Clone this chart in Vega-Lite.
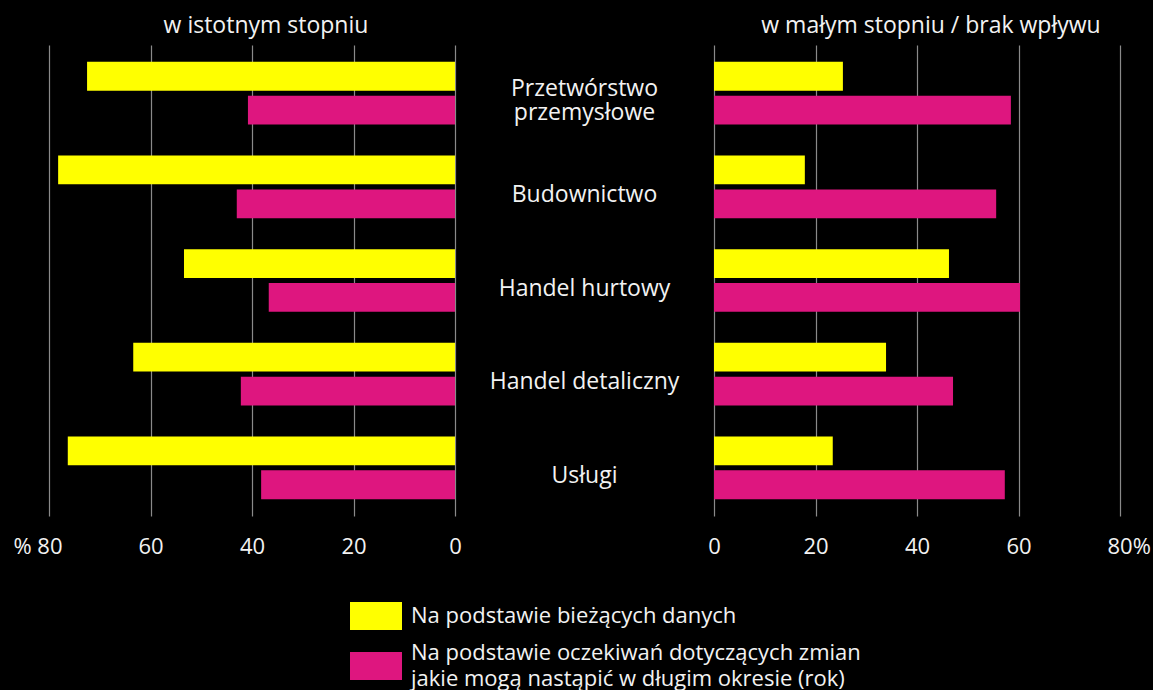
{
  "$schema": "https://vega.github.io/schema/vega-lite/v6.json",
  "background": "black",
  "padding": {"left": 12, "top": 15, "right": 2, "bottom": 2},
  "datasets": {
    "bars": [
      {"category": "Przetwórstwo przemysłowe", "series": "Na podstawie bieżących danych", "side": "istotny", "value": 72.5},
      {"category": "Przetwórstwo przemysłowe", "series": "Na podstawie oczekiwań dotyczących zmian jakie mogą nastąpić w długim okresie (rok)", "side": "istotny", "value": 40.8},
      {"category": "Budownictwo", "series": "Na podstawie bieżących danych", "side": "istotny", "value": 78.2},
      {"category": "Budownictwo", "series": "Na podstawie oczekiwań dotyczących zmian jakie mogą nastąpić w długim okresie (rok)", "side": "istotny", "value": 43.0},
      {"category": "Handel hurtowy", "series": "Na podstawie bieżących danych", "side": "istotny", "value": 53.4},
      {"category": "Handel hurtowy", "series": "Na podstawie oczekiwań dotyczących zmian jakie mogą nastąpić w długim okresie (rok)", "side": "istotny", "value": 36.7},
      {"category": "Handel detaliczny", "series": "Na podstawie bieżących danych", "side": "istotny", "value": 63.4},
      {"category": "Handel detaliczny", "series": "Na podstawie oczekiwań dotyczących zmian jakie mogą nastąpić w długim okresie (rok)", "side": "istotny", "value": 42.2},
      {"category": "Usługi", "series": "Na podstawie bieżących danych", "side": "istotny", "value": 76.3},
      {"category": "Usługi", "series": "Na podstawie oczekiwań dotyczących zmian jakie mogą nastąpić w długim okresie (rok)", "side": "istotny", "value": 38.2},
      {"category": "Przetwórstwo przemysłowe", "series": "Na podstawie bieżących danych", "side": "maly", "value": 25.4},
      {"category": "Przetwórstwo przemysłowe", "series": "Na podstawie oczekiwań dotyczących zmian jakie mogą nastąpić w długim okresie (rok)", "side": "maly", "value": 58.5},
      {"category": "Budownictwo", "series": "Na podstawie bieżących danych", "side": "maly", "value": 17.9},
      {"category": "Budownictwo", "series": "Na podstawie oczekiwań dotyczących zmian jakie mogą nastąpić w długim okresie (rok)", "side": "maly", "value": 55.6},
      {"category": "Handel hurtowy", "series": "Na podstawie bieżących danych", "side": "maly", "value": 46.3},
      {"category": "Handel hurtowy", "series": "Na podstawie oczekiwań dotyczących zmian jakie mogą nastąpić w długim okresie (rok)", "side": "maly", "value": 60.3},
      {"category": "Handel detaliczny", "series": "Na podstawie bieżących danych", "side": "maly", "value": 33.9},
      {"category": "Handel detaliczny", "series": "Na podstawie oczekiwań dotyczących zmian jakie mogą nastąpić w długim okresie (rok)", "side": "maly", "value": 47.1},
      {"category": "Usługi", "series": "Na podstawie bieżących danych", "side": "maly", "value": 23.4},
      {"category": "Usługi", "series": "Na podstawie oczekiwań dotyczących zmian jakie mogą nastąpić w długim okresie (rok)", "side": "maly", "value": 57.3}
    ],
    "labels": [
      {"category": "Przetwórstwo przemysłowe", "lbl": "Przetwórstwo|przemysłowe"},
      {"category": "Budownictwo", "lbl": "Budownictwo"},
      {"category": "Handel hurtowy", "lbl": "Handel hurtowy"},
      {"category": "Handel detaliczny", "lbl": "Handel detaliczny"},
      {"category": "Usługi", "lbl": "Usługi"}
    ]
  },
  "spacing": 0,
  "bounds": "flush",
  "resolve": {"scale": {"x": "independent", "y": "shared", "color": "shared"}},
  "hconcat": [
    {
      "width": 406,
      "height": 471,
      "data": {"name": "bars"},
      "title": {"text": "w istotnym stopniu", "dx": 14},
      "transform": [{"filter": "datum.side == 'istotny'"}],
      "mark": {"type": "bar"},
      "encoding": {
        "y": {"field": "category", "type": "nominal", "sort": ["Przetwórstwo przemysłowe", "Budownictwo", "Handel hurtowy", "Handel detaliczny", "Usługi"], "axis": null, "scale": {"paddingInner": 0.33, "paddingOuter": 0.18}},
        "yOffset": {"field": "series", "type": "nominal", "sort": ["Na podstawie bieżących danych", "Na podstawie oczekiwań dotyczących zmian jakie mogą nastąpić w długim okresie (rok)"], "scale": {"paddingInner": 0.15, "paddingOuter": 0}},
        "x": {"field": "value", "type": "quantitative", "scale": {"domain": [0, 80], "reverse": true, "nice": false},
          "axis": {"values": [0, 20, 40, 60, 80], "title": null,
            "labelExpr": "datum.value == 80 ? '% 80' : datum.label",
            "labelAlign": {"condition": {"test": "datum.value == 80", "value": "right"}, "value": "center"},
            "labelOffset": {"condition": {"test": "datum.value == 80", "value": 13}, "value": 0}}},
        "color": {"field": "series", "type": "nominal", "sort": ["Na podstawie bieżących danych", "Na podstawie oczekiwań dotyczących zmian jakie mogą nastąpić w długim okresie (rok)"],
          "scale": {"domain": ["Na podstawie bieżących danych", "Na podstawie oczekiwań dotyczących zmian jakie mogą nastąpić w długim okresie (rok)"], "range": ["#FFFF00", "#DE167F"]},
          "legend": {"orient": "none", "legendX": 301, "legendY": 545, "title": null,
            "labelExpr": "indexof(datum.label, ' jakie') > 0 ? [substring(datum.label, 0, indexof(datum.label, ' jakie')), substring(datum.label, indexof(datum.label, ' jakie') + 1)] : datum.label",
            "encode": {"labels": {"update": {"dy": {"signal": "datum.index == 1 ? -13 : 0"}, "lineHeight": {"value": 26}}}}}}
      }
    },
    {
      "width": 259,
      "height": 471,
      "data": {"name": "labels"},
      "mark": {"type": "text", "fontSize": 23, "color": "#f2f2f2", "lineBreak": "|", "lineHeight": 24, "dy": {"expr": "indexof(datum.lbl, '|') >= 0 ? -4 : 8"}, "font": "Open Sans"},
      "encoding": {
        "y": {"field": "category", "type": "nominal", "sort": ["Przetwórstwo przemysłowe", "Budownictwo", "Handel hurtowy", "Handel detaliczny", "Usługi"], "axis": null},
        "text": {"field": "lbl"}
      }
    },
    {
      "width": 406,
      "height": 471,
      "data": {"name": "bars"},
      "title": {"text": "w małym stopniu / brak wpływu", "dx": 14},
      "transform": [{"filter": "datum.side == 'maly'"}],
      "mark": {"type": "bar"},
      "encoding": {
        "y": {"field": "category", "type": "nominal", "sort": ["Przetwórstwo przemysłowe", "Budownictwo", "Handel hurtowy", "Handel detaliczny", "Usługi"], "axis": null},
        "yOffset": {"field": "series", "type": "nominal", "sort": ["Na podstawie bieżących danych", "Na podstawie oczekiwań dotyczących zmian jakie mogą nastąpić w długim okresie (rok)"], "scale": {"paddingInner": 0.15, "paddingOuter": 0}},
        "x": {"field": "value", "type": "quantitative", "scale": {"domain": [0, 80], "nice": false},
          "axis": {"values": [0, 20, 40, 60, 80], "title": null,
            "labelExpr": "datum.value == 80 ? '80%' : datum.label",
            "labelAlign": {"condition": {"test": "datum.value == 80", "value": "left"}, "value": "center"},
            "labelOffset": {"condition": {"test": "datum.value == 80", "value": -13}, "value": 0}}},
        "color": {"field": "series", "type": "nominal", "sort": ["Na podstawie bieżących danych", "Na podstawie oczekiwań dotyczących zmian jakie mogą nastąpić w długim okresie (rok)"],
          "scale": {"domain": ["Na podstawie bieżących danych", "Na podstawie oczekiwań dotyczących zmian jakie mogą nastąpić w długim okresie (rok)"], "range": ["#FFFF00", "#DE167F"]},
          "legend": {"orient": "none", "legendX": 301, "legendY": 545, "title": null,
            "labelExpr": "indexof(datum.label, ' jakie') > 0 ? [substring(datum.label, 0, indexof(datum.label, ' jakie')), substring(datum.label, indexof(datum.label, ' jakie') + 1)] : datum.label",
            "encode": {"labels": {"update": {"dy": {"signal": "datum.index == 1 ? -13 : 0"}, "lineHeight": {"value": 26}}}}}}
      }
    }
  ],
  "config": {
    "font": "Open Sans",
    "view": {"stroke": null},
    "title": {"fontSize": 23, "fontWeight": "normal", "color": "#f2f2f2", "anchor": "middle", "offset": 7, "font": "Open Sans"},
    "axis": {"domain": false, "ticks": false, "grid": true, "gridColor": "#8a8a8a", "gridWidth": 1.2, "gridOpacity": 1, "labelFontSize": 22, "labelColor": "#f2f2f2", "labelPadding": 20, "labelFont": "Open Sans"},
    "legend": {"padding": 0, "offset": 0, "symbolType": "M-1,-0.54H1V0.54H-1Z", "symbolSize": 2704, "symbolStrokeWidth": 0, "symbolOpacity": 1,
      "labelFontSize": 22, "labelColor": "#f2f2f2", "labelLimit": 700, "labelOffset": 9, "rowPadding": 9, "labelFont": "Open Sans"}
  }
}
